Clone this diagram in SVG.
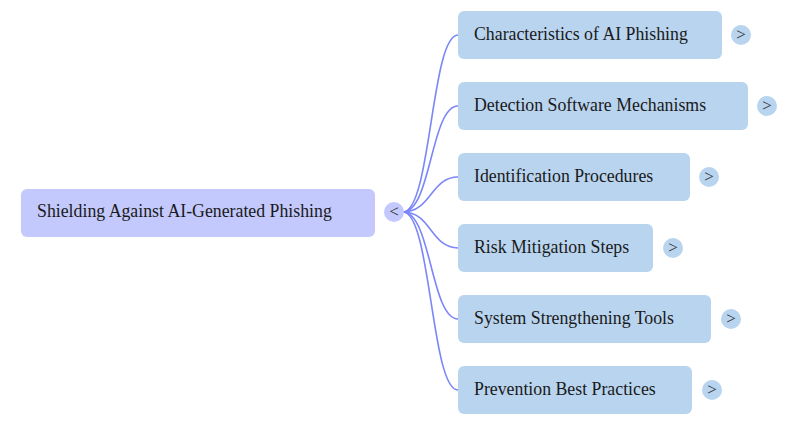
<svg xmlns="http://www.w3.org/2000/svg" width="800" height="426" viewBox="0 0 800 426">
<style>
.root{fill:#c3c9fc}
.child{fill:#b9d4ef}
.t{font-family:"Liberation Serif","Times New Roman",serif;font-size:17.8px;fill:#1a1a1a}
.btn{font-family:"Liberation Serif","Times New Roman",serif;font-size:17px;fill:#333;text-anchor:middle}
.link{fill:none;stroke:#7b86f7;stroke-width:1.6}
</style>
<rect width="800" height="426" fill="#fff"/>
<g id="connectors">
<path class="link" d="M403 212 C431 212 431 35 458 35"/>
<path class="link" d="M403 212 C431 212 431 106 458 106"/>
<path class="link" d="M403 212 C431 212 431 177 458 177"/>
<path class="link" d="M403 212 C431 212 431 248 458 248"/>
<path class="link" d="M403 212 C431 212 431 319 458 319"/>
<path class="link" d="M403 212 C431 212 431 390 458 390"/>
</g>
<g id="root">
<rect class="root" x="21" y="189" width="354" height="48" rx="6"/>
<text class="t" x="37" y="217">Shielding Against AI-Generated Phishing</text>
<circle class="root" cx="394" cy="212" r="10"/>
<text class="btn" x="394" y="217">&lt;</text>
</g>
<g id="n1">
<rect class="child" x="458" y="11" width="264" height="48" rx="6"/>
<text class="t" x="474" y="40">Characteristics of AI Phishing</text>
<circle class="child" cx="741" cy="35" r="10"/>
<text class="btn" x="741" y="40">&gt;</text>
</g>
<g id="n2">
<rect class="child" x="458" y="82" width="290" height="48" rx="6"/>
<text class="t" x="474" y="111">Detection Software Mechanisms</text>
<circle class="child" cx="767" cy="106" r="10"/>
<text class="btn" x="767" y="111">&gt;</text>
</g>
<g id="n3">
<rect class="child" x="458" y="153" width="232" height="48" rx="6"/>
<text class="t" x="474" y="182">Identification Procedures</text>
<circle class="child" cx="709" cy="177" r="10"/>
<text class="btn" x="709" y="182">&gt;</text>
</g>
<g id="n4">
<rect class="child" x="458" y="224" width="195" height="48" rx="6"/>
<text class="t" x="474" y="253">Risk Mitigation Steps</text>
<circle class="child" cx="673" cy="248" r="10"/>
<text class="btn" x="673" y="253">&gt;</text>
</g>
<g id="n5">
<rect class="child" x="458" y="295" width="253" height="48" rx="6"/>
<text class="t" x="474" y="324">System Strengthening Tools</text>
<circle class="child" cx="731" cy="319" r="10"/>
<text class="btn" x="731" y="324">&gt;</text>
</g>
<g id="n6">
<rect class="child" x="458" y="366" width="234" height="48" rx="6"/>
<text class="t" x="474" y="395">Prevention Best Practices</text>
<circle class="child" cx="712" cy="390" r="10"/>
<text class="btn" x="712" y="395">&gt;</text>
</g>
</svg>
